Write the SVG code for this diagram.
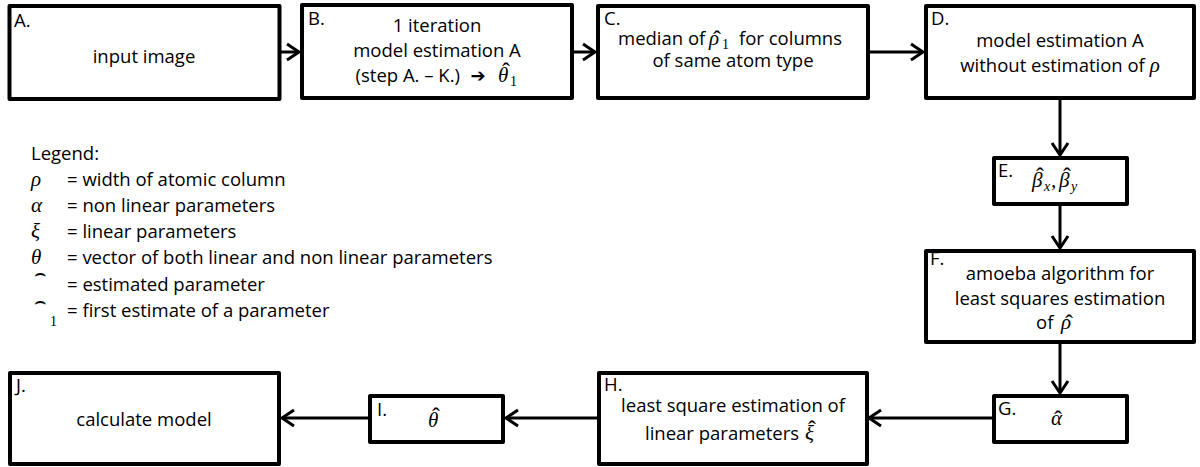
<svg xmlns="http://www.w3.org/2000/svg" width="1200" height="467" viewBox="0 0 1200 467">
<style>
.box{fill:#fff;stroke:#000;stroke-width:4;stroke-linejoin:round}
.t{font-family:"Open Sans","Liberation Sans",sans-serif;font-size:18.5px;fill:#000}
.c{text-anchor:middle}
.e{text-anchor:end}
.m{font-family:"Liberation Serif","DejaVu Serif",serif;font-style:italic;font-size:21px}
.sub{font-family:"Liberation Serif","DejaVu Serif",serif;font-size:14px}
.it{font-style:italic}
.h{font-family:"Liberation Serif","DejaVu Serif",serif;font-size:24px;text-anchor:middle}
.hat{font-family:"DejaVu Sans",sans-serif;font-size:19px;text-anchor:middle}
.ar{font-family:"DejaVu Sans",sans-serif;font-size:18px;font-weight:bold;text-anchor:middle}
.conn{stroke:#000;stroke-width:3;fill:none}
</style>
<defs>
<marker id="arr" markerUnits="userSpaceOnUse" markerWidth="20" markerHeight="20" refX="15" refY="10" orient="auto" viewBox="0 0 20 20">
<path d="M3,2 L15,10 L3,18" fill="none" stroke="#000" stroke-width="3"/>
</marker>
</defs>

<g id="connectors">
<line class="conn" x1="281" y1="52" x2="299" y2="52" marker-end="url(#arr)"/>
<line class="conn" x1="574" y1="52" x2="595" y2="52" marker-end="url(#arr)"/>
<line class="conn" x1="870" y1="52" x2="923" y2="52" marker-end="url(#arr)"/>
<line class="conn" x1="1060" y1="100" x2="1060" y2="155" marker-end="url(#arr)"/>
<line class="conn" x1="1060" y1="206" x2="1060" y2="248" marker-end="url(#arr)"/>
<line class="conn" x1="1060" y1="344" x2="1060" y2="393" marker-end="url(#arr)"/>
<line class="conn" x1="992" y1="418" x2="869" y2="418" marker-end="url(#arr)"/>
<line class="conn" x1="597" y1="418" x2="506" y2="418" marker-end="url(#arr)"/>
<line class="conn" x1="368" y1="418" x2="282" y2="418" marker-end="url(#arr)"/>
</g>

<g id="nodeA">
<rect class="box" x="9.5" y="6" width="270" height="93"/>
<text class="t" x="14" y="27">A.</text>
<text class="t c" x="144" y="63">input image</text>
</g>

<g id="nodeB">
<rect class="box" x="302" y="5" width="270" height="93"/>
<text class="t" x="308" y="25">B.</text>
<text class="t c" x="437" y="32">1 iteration</text>
<text class="t c" x="437" y="57">model estimation A</text>
<text class="t e" x="460" y="82">(step A. – K.)</text>
<text class="ar" x="478" y="82">➔</text>
<text class="m" x="498" y="82">θ</text>
<text class="h" x="506" y="79">ˆ</text>
<text class="sub" x="510" y="86">1</text>
</g>

<g id="nodeC">
<rect class="box" x="598" y="6" width="270" height="92"/>
<text class="t" x="604" y="25">C.</text>
<text class="t" x="618" y="45">median of</text>
<text class="m" x="709" y="45">ρ</text>
<text class="h" x="717" y="47">ˆ</text>
<text class="sub" x="722" y="49">1</text>
<text class="t" x="739" y="45">for columns</text>
<text class="t c" x="733" y="67">of same atom type</text>
</g>

<g id="nodeD">
<rect class="box" x="926" y="6" width="268" height="92"/>
<text class="t" x="931" y="25">D.</text>
<text class="t c" x="1060" y="47">model estimation A</text>
<text class="t c" x="1060" y="72">without estimation of <tspan class="m">ρ</tspan></text>
</g>

<g id="nodeE">
<rect class="box" x="994" y="158" width="133" height="46"/>
<text class="t" x="998" y="177">E.</text>
<text class="m" x="1032" y="187">β</text>
<text class="h" x="1040" y="184">ˆ</text>
<text class="sub it" x="1044" y="191">x</text>
<text class="m" x="1051" y="187">,</text>
<text class="m" x="1059" y="187">β</text>
<text class="h" x="1067" y="184">ˆ</text>
<text class="sub it" x="1071" y="191">y</text>
</g>

<g id="nodeF">
<rect class="box" x="926" y="251" width="268" height="91"/>
<text class="t" x="930" y="265">F.</text>
<text class="t c" x="1060" y="280">amoeba algorithm for</text>
<text class="t c" x="1060" y="305">least squares estimation</text>
<text class="t" x="1036" y="329">of</text>
<text class="m" x="1061" y="329">ρ</text>
<text class="h" x="1069" y="331">ˆ</text>
</g>

<g id="nodeG">
<rect class="box" x="994" y="396" width="133" height="46"/>
<text class="t" x="998" y="415">G.</text>
<text class="m" x="1051" y="425">α</text>
<text class="h" x="1058" y="427">ˆ</text>
</g>

<g id="nodeH">
<rect class="box" x="599" y="373" width="268" height="91"/>
<text class="t" x="604" y="391">H.</text>
<text class="t c" x="733" y="412">least square estimation of</text>
<text class="t" x="645" y="440">linear parameters</text>
<text class="m" x="805" y="440">ξ</text>
<text class="h" x="812" y="437">ˆ</text>
</g>

<g id="nodeI">
<rect class="box" x="370" y="396" width="133" height="46"/>
<text class="t" x="377" y="416">I.</text>
<text class="m" x="428" y="427">θ</text>
<text class="h" x="436" y="424">ˆ</text>
</g>

<g id="nodeJ">
<rect class="box" x="10" y="373" width="269" height="91"/>
<text class="t" x="16" y="392">J.</text>
<text class="t c" x="144" y="426">calculate model</text>
</g>

<g id="legend">
<text class="t" x="31" y="160">Legend:</text>
<text class="m" x="31" y="186">ρ</text>
<text class="t" x="67" y="186">= width of atomic column</text>
<text class="m" x="31" y="212">α</text>
<text class="t" x="67" y="212">= non linear parameters</text>
<text class="m" x="31" y="238">ξ</text>
<text class="t" x="67" y="238">= linear parameters</text>
<text class="m" x="31" y="264">θ</text>
<text class="t" x="67" y="264">= vector of both linear and non linear parameters</text>
<text class="hat" x="40" y="280">⌢</text>
<text class="t" x="67" y="291">= estimated parameter</text>
<text class="hat" x="40" y="308">⌢</text>
<text class="sub" x="50" y="326">1</text>
<text class="t" x="67" y="317">= first estimate of a parameter</text>
</g>
</svg>
